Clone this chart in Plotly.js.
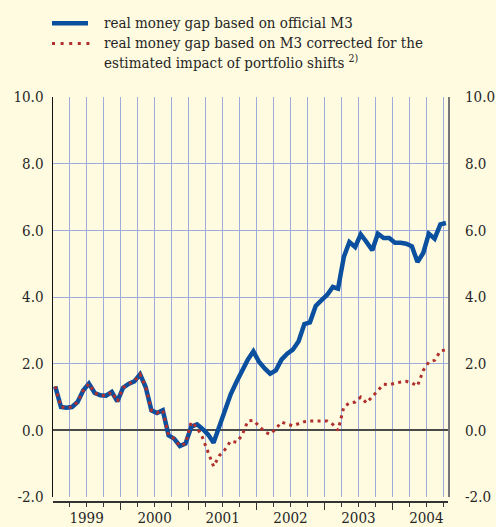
<!DOCTYPE html>
<html>
<head>
<meta charset="utf-8">
<script src="https://cdn.plot.ly/plotly-3.0.1.min.js"></script>
<style>
html,body{margin:0;padding:0;background:#fffbe0;}
#chart{width:496px;height:527px;}
</style>
</head>
<body>
<div id="chart"></div>
<script>
// Monthly observations, January 1999 onwards
const startYear = 1999;

const officialM3 = [
  1.32, 0.70, 0.68, 0.70, 0.85, 1.20, 1.40, 1.12, 1.05, 1.04, 1.15, 0.87,
  1.28, 1.40, 1.47, 1.68, 1.30, 0.60, 0.52, 0.60, -0.15, -0.25, -0.47, -0.40,
  0.10, 0.18, 0.05, -0.12, -0.37, 0.15, 0.58, 1.08, 1.45, 1.78, 2.12, 2.37,
  2.05, 1.85, 1.70, 1.80, 2.12, 2.30, 2.42, 2.67, 3.19, 3.24, 3.73, 3.90,
  4.06, 4.30, 4.25, 5.20, 5.65, 5.50, 5.88, 5.65, 5.40, 5.90, 5.77, 5.77,
  5.63, 5.63, 5.60, 5.52, 5.05, 5.32, 5.90, 5.75, 6.18, 6.22
];

const correctedM3 = [
  1.32, 0.70, 0.68, 0.70, 0.85, 1.20, 1.40, 1.12, 1.05, 1.04, 1.15, 0.87,
  1.28, 1.40, 1.47, 1.68, 1.30, 0.60, 0.52, 0.60, -0.15, -0.25, -0.47, -0.40,
  0.25, 0.08, -0.20, -0.62, -1.08, -0.76, -0.58, -0.32, -0.36, -0.15, 0.28, 0.30,
  0.12, -0.05, -0.12, 0.05, 0.25, 0.18, 0.14, 0.20, 0.26, 0.28, 0.28, 0.28,
  0.28, 0.18, 0.00, 0.70, 0.82, 0.85, 1.00, 0.82, 1.02, 1.20, 1.38, 1.37,
  1.42, 1.45, 1.47, 1.42, 1.33, 1.80, 2.05, 2.10, 2.38, 2.42
];

const seriesNames = [
  'real money gap based on official M3',
  'real money gap based on M3 corrected for the',
  'estimated impact of portfolio shifts <sup>2)</sup>'
];

const yTicks = [-2, 0, 2, 4, 6, 8, 10];
const yTickLabels = ['-2.0', '0.0', '2.0', '4.0', '6.0', '8.0', '10.0'];

// month dates (mid-month)
const months = officialM3.map((_, i) => {
  const y = startYear + Math.floor(i / 12);
  const m = (i % 12) + 1;
  return y + '-' + String(m).padStart(2, '0') + '-15';
});

const BLUE = '#0b4f9f';
const RED = '#b0302e';
const GRID = '#9eabdd';
const BG = '#fffbe0';
const TXT = '#262626';
const FONT = "DejaVu Serif Condensed";
const LSIZE = 15;
const TSIZE = 15;

const traces = [
  {
    x: months, y: officialM3, type: 'scatter', mode: 'lines',
    line: {color: BLUE, width: 4.5}, hoverinfo: 'skip', showlegend: false
  },
  {
    x: months, y: correctedM3, type: 'scatter', mode: 'lines',
    line: {color: RED, width: 3, dash: '3px,4.3px'}, hoverinfo: 'skip', showlegend: false
  }
];

const W = 496, H = 527, ML = 53, MR = 48, MT = 97, MB = 26;
const pw = W - ML - MR, ph = H - MT - MB;
const px = (x) => (x - ML) / pw;
const py = (y) => (H - MB - y) / ph;

const layout = {
  width: W, height: H,
  margin: {l: ML, r: MR, t: MT, b: MB, pad: 0},
  paper_bgcolor: BG, plot_bgcolor: BG,
  font: {family: FONT, color: TXT, size: TSIZE},
  showlegend: false,
  xaxis: {
    type: 'date',
    range: ['1999-01-03', '2004-10-26'],
    anchor: 'free', position: 0,
    showline: true, linecolor: '#333', linewidth: 1.5,
    ticks: 'outside', ticklen: 7, tickwidth: 1.5, tickcolor: '#333',
    tick0: '1999-01-01', dtick: 'M12', tickformat: '%Y', ticklabelmode: 'period',
    ticklabelstandoff: -5,
    tickfont: {family: FONT, size: TSIZE, color: TXT},
    showgrid: true, gridcolor: GRID, gridwidth: 1,
    minor: {tick0: '1999-01-01', dtick: 'M3', ticks: 'outside', ticklen: 4, tickwidth: 1.2, tickcolor: '#333',
            showgrid: true, gridcolor: GRID, gridwidth: 1},
    zeroline: false, fixedrange: true
  },
  yaxis: {
    domain: [4 / ph, 1],
    range: [-2, 10], tickvals: yTicks, ticktext: yTickLabels,
    ticks: '', ticklabelstandoff: 5,
    tickfont: {family: FONT, size: TSIZE, color: TXT},
    showgrid: true, gridcolor: GRID, gridwidth: 1,
    showline: true, linecolor: '#111', linewidth: 1.5,
    zeroline: true, zerolinecolor: '#4a4a4a', zerolinewidth: 2,
    fixedrange: true
  },
  yaxis2: {
    overlaying: 'y', side: 'right', anchor: 'x',
    range: [-2, 10], tickvals: yTicks, ticktext: yTickLabels,
    ticks: '', ticklabelstandoff: 12,
    tickfont: {family: FONT, size: TSIZE, color: TXT},
    showgrid: false, zeroline: false,
    showline: true, linecolor: '#777', linewidth: 2,
    fixedrange: true
  },
  shapes: [
    {type: 'line', xref: 'paper', yref: 'paper', x0: px(52), x1: px(88), y0: py(23.3), y1: py(23.3),
     line: {color: BLUE, width: 4.5}},
    {type: 'line', xref: 'paper', yref: 'paper', x0: px(52), x1: px(90), y0: py(43.5), y1: py(43.5),
     line: {color: RED, width: 3, dash: '3px,5.6px'}}
  ],
  annotations: [
    {text: seriesNames[0], xref: 'paper', yref: 'paper', x: px(102), y: py(23.3), xanchor: 'left', yanchor: 'middle',
     showarrow: false, font: {family: FONT, size: LSIZE, color: TXT}},
    {text: seriesNames[1], xref: 'paper', yref: 'paper', x: px(102), y: py(43.3), xanchor: 'left', yanchor: 'middle',
     showarrow: false, font: {family: FONT, size: LSIZE, color: TXT}},
    {text: seriesNames[2], xref: 'paper', yref: 'paper', x: px(102), y: py(61.5), xanchor: 'left', yanchor: 'middle',
     showarrow: false, font: {family: FONT, size: LSIZE, color: TXT}}
  ]
};

// invisible helper trace so the right axis is drawn
traces.push({x: [months[0]], y: [null], yaxis: 'y2', type: 'scatter', mode: 'lines', hoverinfo: 'skip', showlegend: false});

Plotly.newPlot('chart', traces, layout, {staticPlot: true, displayModeBar: false});
</script>
</body>
</html>
